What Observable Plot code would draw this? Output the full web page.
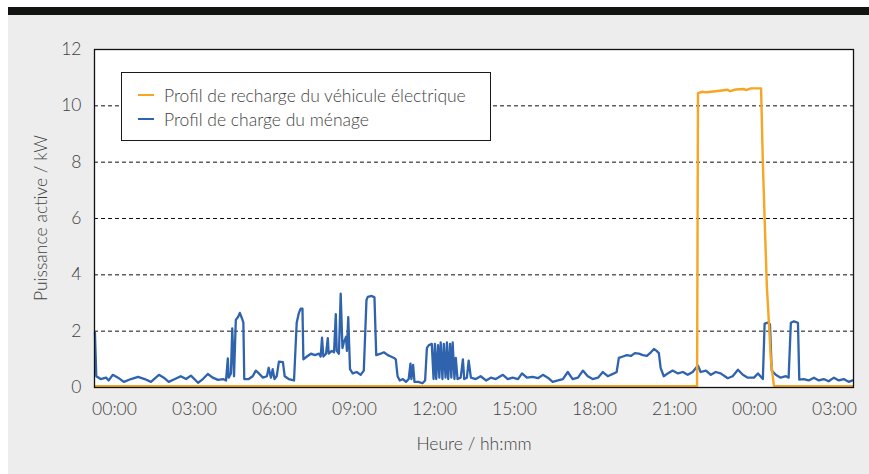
<!DOCTYPE html>
<html>
<head>
<meta charset="utf-8">
<script src="https://cdn.jsdelivr.net/npm/d3@7"></script>
<script src="https://cdn.jsdelivr.net/npm/@observablehq/plot@0.6"></script>
<style>
  html, body { margin: 0; padding: 0; background: #ffffff; }
  #wrap { position: relative; width: 869px; height: 474px; overflow: hidden; font-family: Lato, "Open Sans", sans-serif; }
  #panel { position: absolute; left: 8px; top: 15px; right: 0; bottom: 0; background: #ededed; }
  #bar { position: absolute; left: 8px; top: 7px; right: 0; height: 8px; background: #121412; }
  #chart { position: absolute; left: 0; top: 0; }
  #legend { position: absolute; left: 121px; top: 72px; width: 368px; height: 67px; border: 1.5px solid #1a1a1a; background: #fff; box-sizing: content-box; }
  .item { position: absolute; left: 16px; height: 24px; display: flex; align-items: center; font-size: 17.5px; color: #3f3f3f; font-weight: 300; white-space: nowrap; }
  .sw { width: 16px; height: 2px; margin-right: 10px; }
  .title { position: absolute; font-size: 17.5px; color: #3f3f3f; font-weight: 300; white-space: nowrap; }
  #xtitle { left: 474px; top: 443px; transform: translate(-50%, -50%); }
  #ytitle { left: 40px; top: 218px; transform: translate(-50%, -50%) rotate(-90deg); }
</style>
</head>
<body>
<div id="wrap">
  <div id="panel"></div>
  <div id="bar"></div>
  <div id="chart"></div>
  <div id="legend"></div>
  <div class="title" id="xtitle"></div>
  <div class="title" id="ytitle"></div>
</div>
<script>
// Time in minutes from 00:00 of the first day
const seriesNames = ["Profil de recharge du véhicule électrique", "Profil de charge du ménage"];
const seriesColors = ["#f6a623", "#2f63ad"];
const xTitle = "Heure / hh:mm";
const yTitle = "Puissance active / kW";

const householdTime = [-44,-41,-31,-19,-13,-4,8,21,37,53,68,82,100,111,122,136,149,161,172,188,199,210,221,233,244,251,255,257,262,265,269,273,278,282,287,290,292,302,311,318,325,334,343,347,352,356,360,365,370,379,383,392,404,410,415,419,423,425,433,442,451,460,464,467,470,476,480,482,489,494,498,500,505,509,513,516,521,523,526,530,536,545,554,561,567,570,579,585,589,599,606,615,622,629,633,637,642,649,656,662,666,668,672,675,684,693,699,703,707,714,718,721,724,728,731,734,738,741,745,748,751,755,758,761,765,768,772,779,784,787,793,797,802,813,824,836,847,858,874,885,896,908,917,928,941,953,964,975,986,998,1009,1020,1031,1043,1054,1065,1076,1088,1099,1110,1124,1130,1135,1144,1153,1162,1171,1180,1189,1198,1207,1214,1220,1225,1229,1236,1245,1256,1268,1279,1290,1301,1313,1319,1331,1342,1353,1364,1380,1391,1403,1414,1425,1439,1448,1459,1463,1470,1475,1479,1488,1499,1511,1517,1522,1529,1538,1541,1551,1562,1574,1585,1596,1607,1619,1630,1641,1652,1661];
const householdPower = [1.95,0.4,0.3,0.35,0.25,0.45,0.35,0.2,0.3,0.38,0.3,0.2,0.45,0.35,0.2,0.3,0.4,0.3,0.42,0.17,0.3,0.48,0.35,0.27,0.3,0.25,1.03,0.35,0.5,2.1,0.4,2.4,2.5,2.65,2.45,2.3,0.3,0.3,0.4,0.6,0.5,0.35,0.4,0.7,0.35,0.65,0.3,0.4,0.92,0.9,0.4,0.3,0.25,2.3,2.65,2.8,2.8,1.0,1.1,1.2,1.15,1.2,1.1,1.77,1.1,1.2,1.75,1.2,1.3,1.25,2.6,1.3,1.2,3.33,1.4,1.6,1.8,1.3,2.5,0.65,0.5,0.55,0.45,0.6,3.1,3.22,3.25,3.2,1.15,1.2,1.25,1.15,1.1,1.05,1.0,0.4,0.25,0.3,0.2,0.3,0.85,0.3,0.8,0.2,0.2,0.15,0.25,1.4,1.5,1.55,0.3,1.55,0.3,1.5,0.35,1.6,0.3,1.55,0.35,1.6,0.3,1.55,0.35,1.6,0.3,1.05,0.3,0.35,1.0,0.3,0.35,0.95,0.35,0.3,0.4,0.25,0.35,0.3,0.45,0.3,0.35,0.3,0.5,0.35,0.38,0.33,0.45,0.35,0.2,0.25,0.3,0.55,0.3,0.35,0.6,0.4,0.3,0.35,0.55,0.4,0.5,0.55,1.05,1.1,1.15,1.12,1.22,1.2,1.15,1.12,1.25,1.37,1.3,1.22,0.7,0.4,0.5,0.6,0.5,0.55,0.45,0.55,0.78,0.55,0.6,0.45,0.55,0.5,0.33,0.4,0.63,0.45,0.35,0.35,0.5,0.3,2.27,2.3,2.25,0.6,0.45,0.35,0.4,0.35,2.3,2.35,2.3,0.28,0.3,0.25,0.35,0.25,0.3,0.22,0.35,0.25,0.3,0.2,0.25];

const evTime = [-44,1311,1313,1323,1331,1353,1380,1385,1398,1416,1421,1432,1455,1459,1464,1468,1473,1477,1484,1661];
const evPower = [0.05,0.05,10.45,10.5,10.48,10.52,10.57,10.52,10.58,10.6,10.56,10.62,10.62,8.0,5.5,3.6,2.2,1.0,0.05,0.05];

const xTicks = [0,180,360,540,720,900,1080,1260,1440,1620];
const xTickLabels = ["00:00","03:00","06:00","09:00","12:00","15:00","18:00","21:00","00:00","03:00"];
const yTicks = [0,2,4,6,8,10,12];
const gridValues = [2,4,6,8,10];

const household = householdTime.map((t, i) => ({t, p: householdPower[i]}));
const ev = evTime.map((t, i) => ({t, p: evPower[i]}));

const chart = Plot.plot({
  width: 869,
  height: 474,
  marginLeft: 94,
  marginRight: 16,
  marginTop: 49,
  marginBottom: 87,
  style: {background: "transparent", fontFamily: "Lato, 'Open Sans', sans-serif", fontSize: "17.5px", color: "#3f3f3f", fontWeight: 300},
  x: {domain: [-45, 1663], ticks: xTicks, tickFormat: (d) => xTickLabels[xTicks.indexOf(d)], tickSize: 0, tickPadding: 15, label: null},
  y: {domain: [0, 12], ticks: yTicks, tickSize: 0, tickPadding: 13, label: null},
  marks: [
    Plot.frame({fill: "white", stroke: null}),
    Plot.gridY(gridValues, {stroke: "#111", strokeOpacity: 1, strokeDasharray: "4,3", strokeWidth: 1}),
    Plot.line(household, {x: "t", y: "p", stroke: seriesColors[1], strokeWidth: 2.3, strokeLinejoin: "round"}),
    Plot.line(ev, {x: "t", y: "p", stroke: seriesColors[0], strokeWidth: 2.4, strokeLinejoin: "round"}),
    Plot.frame({stroke: "#111", strokeWidth: 1.3})
  ]
});
document.getElementById("chart").appendChild(chart);

document.getElementById("xtitle").textContent = xTitle;
document.getElementById("ytitle").textContent = yTitle;

const legend = document.getElementById("legend");
seriesNames.forEach((name, i) => {
  const item = document.createElement("div");
  item.className = "item";
  item.style.top = (10 + i * 24) + "px";
  const sw = document.createElement("span");
  sw.className = "sw";
  sw.style.background = seriesColors[i];
  const tx = document.createElement("span");
  tx.textContent = name;
  item.appendChild(sw);
  item.appendChild(tx);
  legend.appendChild(item);
});
</script>
</body>
</html>
